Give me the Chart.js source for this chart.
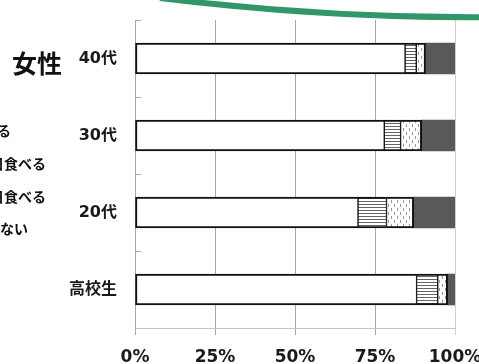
<!DOCTYPE html>
<html>
<head>
<meta charset="utf-8">
<script src="https://cdn.jsdelivr.net/npm/chart.js@4/dist/chart.umd.min.js"></script>
<style>
html, body { margin: 0; padding: 0; background: #fff; overflow: hidden; }
#wrap { width: 479px; height: 364px; overflow: hidden; position: relative; }
</style>
</head>
<body>
<div id="wrap"><canvas id="chart" width="520" height="364"></canvas></div>
<script>
// data (percent of each group)
const groups = ['40代', '30代', '20代', '高校生'];
const seriesNames = ['ほぼ毎日食べる', '週に3〜5日食べる', '週に1〜2日食べる', 'ほとんど食べない'];
const everyDay = [84.4, 77.9, 69.7, 88.0];
const often = [3.5, 5.1, 8.9, 6.6];
const sometimes = [2.9, 6.6, 8.5, 3.1];
const rarely = [9.2, 10.4, 12.9, 2.3];
const xTicks = [0, 25, 50, 75, 100];

const FONT = "'DejaVu Sans', 'Noto Sans CJK JP', sans-serif";
const CJK = "'Noto Sans CJK JP', sans-serif";

// fill patterns
function makePattern(w, h, draw) {
    const c = document.createElement('canvas');
    c.width = w; c.height = h;
    const g = c.getContext('2d');
    g.fillStyle = '#fff';
    g.fillRect(0, 0, w, h);
    draw(g);
    return document.getElementById('chart').getContext('2d').createPattern(c, 'repeat');
}
const stripes = makePattern(4, 3, g => {
    g.fillStyle = '#666';
    g.fillRect(0, 0, 4, 1);
});
const dots = makePattern(6, 8, g => {
    g.fillStyle = '#9a9a9a';
    g.fillRect(1, 0, 1, 3);
    g.fillRect(4, 4, 1, 3);
});

// small inner ticks on the category axis + green swoosh + title + cut-off legend
const decor = {
    id: 'decor',
    beforeDatasetsDraw(chart) {
        const ctx = chart.ctx;
        const a = chart.chartArea;
        const band = (a.bottom - a.top) / groups.length;
        ctx.save();
        ctx.strokeStyle = '#a6a6a6';
        ctx.lineWidth = 1;
        for (let i = 0; i < groups.length; i++) {
            const y = Math.round(a.top + band * i) + 0.5;
            ctx.beginPath();
            ctx.moveTo(a.left, y);
            ctx.lineTo(a.left + 6, y);
            ctx.stroke();
        }
        ctx.restore();
    },
    afterDraw(chart) {
        const ctx = chart.ctx;
        ctx.save();
        // green swoosh at the top
        ctx.strokeStyle = '#31966a';
        ctx.lineWidth = 6;
        ctx.beginPath();
        ctx.moveTo(160, -2);
        ctx.quadraticCurveTo(330, 19, 500, 17);
        ctx.stroke();

        // 女性
        ctx.fillStyle = '#111';
        ctx.font = "bold 25px " + CJK;
        ctx.textAlign = 'left';
        ctx.textBaseline = 'middle';
        ctx.fillText('女性', 12, 63);

        // legend, mostly outside the picture on the left
        ctx.font = "bold 14px " + CJK;
        ctx.textAlign = 'right';
        const ends = [11, 46, 46, 28];
        const ys = [131, 164, 197, 229];
        chart.data.datasets.forEach((ds, i) => {
            ctx.fillText(ds.label, ends[i], ys[i]);
        });
        ctx.restore();
    }
};

new Chart(document.getElementById('chart'), {
    type: 'bar',
    data: {
        labels: groups,
        datasets: [
            {
                label: seriesNames[0],
                data: everyDay,
                backgroundColor: '#fff',
                borderColor: '#111',
                borderWidth: { top: 2, bottom: 2, left: 2, right: 1 },
                borderSkipped: false
            },
            {
                label: seriesNames[1],
                data: often,
                backgroundColor: stripes,
                borderColor: '#111',
                borderWidth: { top: 2, bottom: 2, left: 1, right: 1 },
                borderSkipped: false
            },
            {
                label: seriesNames[2],
                data: sometimes,
                backgroundColor: dots,
                borderColor: '#111',
                borderWidth: { top: 2, bottom: 2, left: 1, right: 2 },
                borderSkipped: false
            },
            {
                label: seriesNames[3],
                data: rarely,
                backgroundColor: '#595959',
                borderWidth: 0
            }
        ]
    },
    options: {
        indexAxis: 'y',
        responsive: false,
        animation: false,
        devicePixelRatio: 1,
        datasets: { bar: { barThickness: 31 } },
        layout: { padding: { top: 20, right: 65, left: 0, bottom: 0 } },
        scales: {
            x: {
                stacked: true,
                min: 0,
                max: 100,
                afterBuildTicks: s => { s.ticks = xTicks.map(v => ({ value: v })); },
                afterFit: s => { s.height = 36; },
                grid: {
                    color: c => (c.tick && c.tick.value === 100) ? '#d0d0d0' : '#a6a6a6',
                    tickLength: 7
                },
                border: { color: '#c4c4c4' },
                ticks: {
                    padding: 12,
                    color: '#1a1a1a',
                    font: { family: FONT, size: 17, weight: 'bold' },
                    callback: v => v + '%'
                }
            },
            y: {
                stacked: true,
                afterFit: s => { s.width = 135; s.paddingTop = 0; s.paddingBottom = 0; },
                grid: { display: false, drawTicks: false },
                border: { display: true, color: '#a6a6a6' },
                ticks: {
                    padding: 18,
                    color: '#1a1a1a',
                    font: { family: FONT, size: 16, weight: 'bold' }
                }
            }
        },
        plugins: {
            legend: { display: false },
            tooltip: { enabled: false }
        }
    },
    plugins: [decor]
});
</script>
</body>
</html>
